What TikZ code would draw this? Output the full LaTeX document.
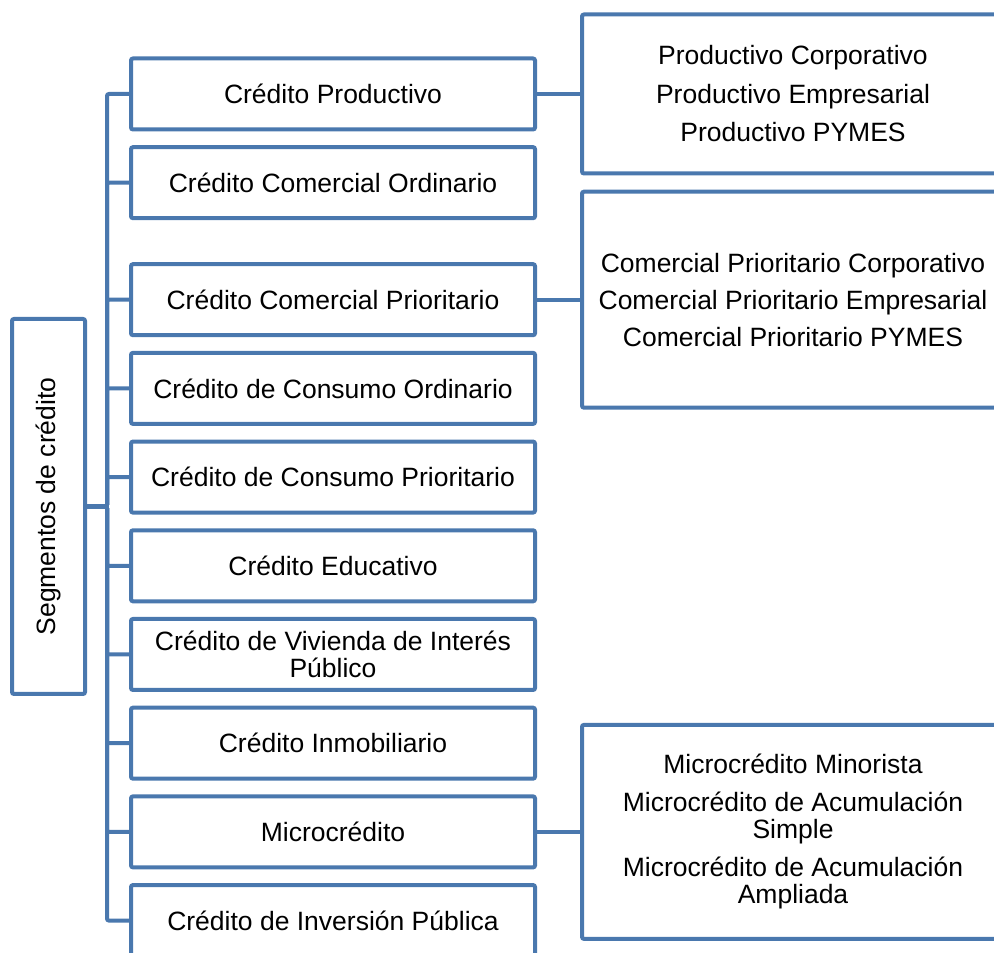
\documentclass[tikz,border=0pt]{standalone}
\usepackage{fontspec}
\setmainfont{Liberation Sans}
\usepackage{xcolor}
\usetikzlibrary{positioning}
\definecolor{SBlue}{HTML}{4A78AE}

\begin{document}
\begin{tikzpicture}[
  x=1pt,y=1pt,
  node distance=17.7pt,
  seg/.style={draw=SBlue,line width=4pt,rounded corners=2pt,outer sep=0pt,
    minimum width=404pt,minimum height=71pt,align=center,inner sep=2pt,
    font=\fontsize{26.5}{27}\selectfont},
  subbox/.style={seg,minimum width=422pt},
  rootbox/.style={seg,minimum width=375pt,minimum height=73pt,rotate=90},
  link/.style={draw=SBlue,line width=4pt,rounded corners=2pt}
]
  \useasboundingbox (0,0) rectangle (994,953);
  \clip (0,0) rectangle (994,953);

  \node[rootbox] (root) at (48.5,446.5) {Segmentos de crédito};

  % segments
  \node[seg] (prod) at (333,859) {Crédito Productivo};
  \node[seg,below=of prod] (comord) {Crédito Comercial Ordinario};
  \node[seg,below=46pt of comord] (compri) {Crédito Comercial Prioritario};
  \node[seg,below=of compri] (conord) {Crédito de Consumo Ordinario};
  \node[seg,below=of conord] (conpri) {Crédito de Consumo Prioritario};
  \node[seg,below=of conpri] (edu) {Crédito Educativo};
  \node[seg,below=of edu] (viv) {Crédito de Vivienda de Interés\\Público};
  \node[seg,below=of viv] (inmo) {Crédito Inmobiliario};
  \node[seg,below=of inmo] (micro) {Microcrédito};
  \node[seg,below=of micro] (inv) {Crédito de Inversión Pública};

  % subsegments
  \node[subbox,minimum height=159pt,right=47pt of prod] (prodsub)
    {Productivo Corporativo\\[11.5pt]Productivo Empresarial\\[11.5pt]Productivo PYMES};
  \node[subbox,minimum height=216pt,right=47pt of compri] (comsub)
    {Comercial Prioritario Corporativo\\[10pt]Comercial Prioritario Empresarial\\[10pt]Comercial Prioritario PYMES};
  \node[subbox,minimum height=214pt,right=47pt of micro] (microsub)
    {Microcrédito Minorista\\[11pt]Microcrédito de Acumulación\\Simple\\[11pt]Microcrédito de Acumulación\\Ampliada};

  \foreach \c in {prod,comord,compri,conord,conpri,edu,viv,inmo,micro,inv}
    {\draw[link] (root.south) -- ++(22,0) |- (\c.west);}
  \foreach \a/\b in {prod/prodsub,compri/comsub,micro/microsub}
    {\draw[link] (\a.east) -- (\b.west);}
\end{tikzpicture}
\end{document}
